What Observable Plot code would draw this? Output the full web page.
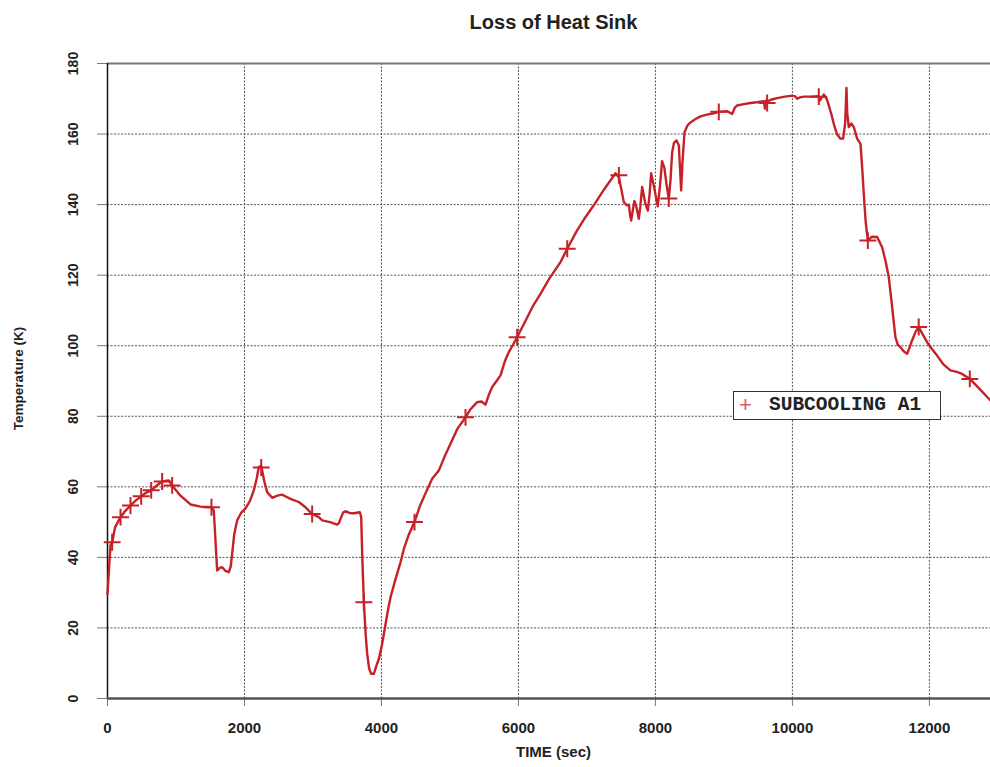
<!DOCTYPE html>
<html><head><meta charset="utf-8">
<script src="https://cdn.jsdelivr.net/npm/d3@7"></script>
<script src="https://cdn.jsdelivr.net/npm/@observablehq/plot@0.6"></script>
<style>
html,body{margin:0;padding:0;background:#fff;}
#wrap{position:relative;width:990px;height:767px;overflow:hidden;}
#legend{position:absolute;left:733px;top:391px;width:206px;height:27px;border:1.5px solid #333;background:#fff;}
#legend .sym{position:absolute;left:5px;top:-1px;font:normal 22px 'Liberation Sans',Arial,sans-serif;color:#e05a66;line-height:27px;}
#legend .lab{position:absolute;left:35px;top:0;font:bold 19.5px 'Liberation Mono','Courier New',monospace;color:#222;line-height:27px;}
</style></head>
<body><div id="wrap"></div>
<script>
const title = "Loss of Heat Sink";
const xLabel = "TIME (sec)";
const yLabel = "Temperature (K)";
const seriesName = "SUBCOOLING A1";
const xTicks = [0, 2000, 4000, 6000, 8000, 10000, 12000];
const yTicks = [0, 20, 40, 60, 80, 100, 120, 140, 160, 180];

const times = [0,20,44,68,110,190,260,336,410,492,560,638,720,798,895,944,1066,1212,1358,1518,1552,1601,1640,1675,1720,1771,1800,1820,1850,1893,1950,2015,2080,2136,2180,2209,2244,2290,2331,2404,2480,2550,2610,2672,2793,2891,2988,3085,3134,3250,3353,3380,3402,3440,3475,3530,3597,3684,3704,3720,3743,3770,3791,3820,3850,3889,3930,3962,4000,4035,4090,4132,4200,4278,4327,4400,4482,4560,4650,4740,4837,4920,5008,5110,5227,5300,5397,5460,5519,5570,5616,5680,5738,5800,5860,5981,6103,6210,6322,6450,6614,6712,6850,6980,7100,7250,7417,7466,7500,7539,7580,7612,7630,7646,7670,7694,7720,7757,7780,7806,7850,7889,7915,7937,7980,8034,8065,8097,8130,8160,8195,8220,8244,8270,8307,8341,8360,8375,8395,8424,8470,8512,8580,8658,8750,8852,8925,9047,9120,9160,9193,9290,9388,9480,9582,9600,9615,9631,9660,9700,9777,9890,9996,10040,10069,10110,10166,10280,10370,10385,10400,10458,10500,10531,10570,10604,10650,10702,10740,10770,10789,10800,10823,10860,10896,10945,10994,11020,11042,11070,11101,11160,11237,11310,11360,11407,11450,11504,11540,11577,11620,11674,11710,11747,11800,11844,11900,11966,12040,12112,12200,12307,12400,12478,12590,12700,12892];
const temps = [29.5,36,43.5,44.3,48.5,51.4,53.2,54.7,56.1,57.3,58.3,59.0,60.4,61.5,61.8,60.4,57.5,55.0,54.4,54.2,53.3,36.3,37.0,37.2,36.2,35.8,37.5,41.1,46.5,50.5,52.6,53.9,56.0,59.0,62.5,65.6,66.0,61.5,58.5,56.9,57.5,57.8,57.2,56.6,55.7,54.2,52.3,51.4,50.5,50.0,49.3,49.8,50.9,52.7,53.1,52.6,52.5,52.8,51.4,40,27.3,18,12.7,8.5,7.0,7.0,9.5,11.2,14.5,18.3,24.5,28.7,33.5,38.6,42.4,46.5,50.0,54.5,58.5,62.3,64.6,68.5,72.2,76.5,79.7,82.0,84.0,84.2,83.3,86.2,88.3,90.0,91.6,95.5,98.2,102.4,107.1,111.2,114.7,119.0,123.7,127.5,132.5,136.5,139.8,144.3,148.9,147.8,144.5,140.7,139.8,140.0,137.0,135.5,138.5,141.0,139.5,136.0,139.5,145.0,140.5,138.3,143,148.9,145,139.5,145,152.3,150.5,146,141.7,147,154.8,157.5,158.2,156.8,150,144.0,152,160.5,162.5,163.3,164.2,165.0,165.5,165.9,166.3,166.5,165.7,167.5,168.1,168.5,168.8,169.0,169.3,167.2,169.5,168.8,169.5,169.8,170.2,170.6,170.9,170.7,170.0,170.4,170.6,170.6,170.7,170.6,169.5,171.2,170,168.1,165.5,162.9,160,158.7,158.7,163,173.1,166,162.0,163,162.0,158.7,157.2,150,143.0,135,129.8,130.9,130.8,127.9,124,119.4,112,102.4,100.2,99.6,98.5,97.7,99.5,101.5,104,105.3,103.3,101.0,99.0,97.2,94.8,93.0,92.6,92.0,90.6,88.4,84.5];

const markerTimes = [68,190,336,492,638,798,944,1518,2244,2988,3743,4482,5227,5981,6712,7466,8195,8925,9631,10385,11101,11844,12590];
const markerTemps = [44.3,51.4,54.7,57.3,59.0,61.5,60.4,54.2,65.5,52.3,27.3,50.0,79.7,102.4,127.5,148.3,141.7,166.3,168.8,170.6,129.8,105.3,90.6];

const line = times.map((t, i) => ({t, v: temps[i]}));
const markers = markerTimes.map((t, i) => ({t, v: markerTemps[i]}));

const red = "#c62128";
const font = "'Liberation Sans', Arial, sans-serif";

const chart = Plot.plot({
  width: 990, height: 767,
  marginLeft: 107, marginRight: 0, marginTop: 63, marginBottom: 69,
  x: {domain: [0, 12892]},
  y: {domain: [0, 180]},
  style: {background: "#fff", fontFamily: font},
  marks: [
    Plot.gridX(xTicks.filter(d => d > 0), {stroke: "#555", strokeOpacity: 1, strokeDasharray: "2,1.5", strokeWidth: 1}),
    Plot.gridY(yTicks.filter(d => d > 0 && d < 180), {stroke: "#555", strokeOpacity: 1, strokeDasharray: "2,1.5", strokeWidth: 1}),
    Plot.ruleY([180], {stroke: "#777", strokeWidth: 2}),
    Plot.axisX(xTicks, {tickSize: 8, tickFormat: () => "", label: null, stroke: "#777"}),
    Plot.axisY(yTicks, {tickSize: 10, tickFormat: () => "", label: null, stroke: "#777"}),
    Plot.text(xTicks, {x: d => d, text: d => String(d), frameAnchor: "bottom", dy: 30, textAnchor: "middle", lineAnchor: "middle", fontSize: 15, fontWeight: "bold", fill: "#222"}),
    Plot.text(yTicks, {y: d => d, text: d => String(d), frameAnchor: "left", dx: -34, rotate: -90, textAnchor: "middle", lineAnchor: "middle", fontSize: 14, fontWeight: "bold", fill: "#222"}),
    Plot.ruleX([0], {stroke: "#111", strokeWidth: 1.5}),
    Plot.ruleY([0], {stroke: "#555", strokeWidth: 2.5}),
    Plot.line(line, {x: "t", y: "v", stroke: red, strokeWidth: 2.4, strokeLinejoin: "round"}),
    Plot.dot(markers, {x: "t", y: "v", symbol: "plus", r: 5.5, stroke: red, strokeWidth: 2, fill: "none"}),
    Plot.text([title], {text: d => d, frameAnchor: "top", dy: -41, dx: 4.5, textAnchor: "middle", lineAnchor: "middle", fontSize: 20, fontWeight: "bold", fill: "#222"}),
    Plot.text([xLabel], {text: d => d, frameAnchor: "bottom", dy: 54, dx: 4.5, textAnchor: "middle", lineAnchor: "middle", fontSize: 15, fontWeight: "bold", fill: "#222"}),
    Plot.text([yLabel], {text: d => d, frameAnchor: "left", dx: -89, dy: -2.5, rotate: -90, textAnchor: "middle", lineAnchor: "middle", fontSize: 13.5, fontWeight: "bold", fill: "#222"})
  ]
});
const wrap = document.getElementById("wrap");
wrap.appendChild(chart);
const lg = document.createElement("div");
lg.id = "legend";
lg.innerHTML = `<span class="sym">+</span><span class="lab"></span>`;
lg.querySelector(".lab").textContent = seriesName;
wrap.appendChild(lg);
</script>
</body></html>
